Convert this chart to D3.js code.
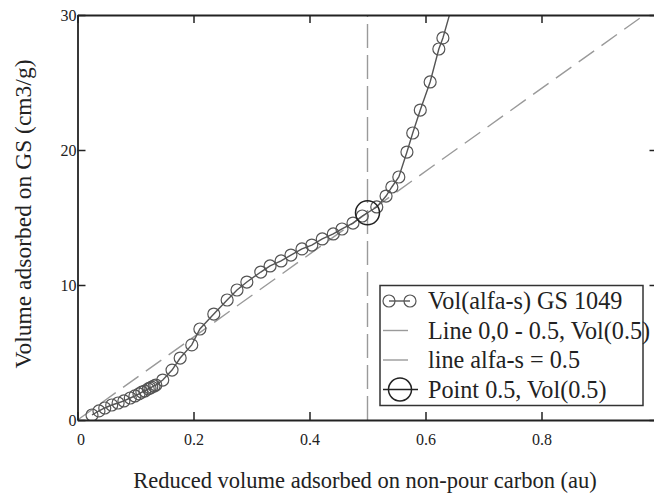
<!DOCTYPE html>
<html>
<head>
<meta charset="utf-8">
<script src="https://cdn.jsdelivr.net/npm/d3@7"></script>
<style>
  body { margin: 0; background: #fff; }
  svg text { font-family: "Liberation Serif", "DejaVu Serif", serif; fill: #222; }
</style>
</head>
<body>
<div id="chart"></div>
<script>
// data
const alfaS = [0.025, 0.037, 0.047, 0.059, 0.070, 0.080, 0.091, 0.099, 0.106, 0.111,
  0.116, 0.122, 0.125, 0.128, 0.132, 0.135, 0.147, 0.163, 0.177, 0.197,
  0.211, 0.235, 0.258, 0.275, 0.292, 0.316, 0.332, 0.351, 0.368, 0.387,
  0.404, 0.422, 0.441, 0.456, 0.475, 0.491, 0.516, 0.532, 0.542, 0.554,
  0.568, 0.578, 0.591, 0.608, 0.623, 0.630, 0.650];
const volGS = [0.37, 0.67, 0.89, 1.11, 1.26, 1.41, 1.63, 1.78, 1.93, 2.07,
  2.15, 2.30, 2.37, 2.44, 2.52, 2.59, 2.96, 3.70, 4.59, 5.56,
  6.74, 7.85, 8.89, 9.63, 10.22, 10.96, 11.41, 11.78, 12.22, 12.67,
  12.96, 13.41, 13.78, 14.15, 14.59, 15.11, 15.78, 16.59, 17.26, 18.0,
  19.85, 21.26, 22.96, 25.04, 27.48, 28.30, 31.3];
const pointX = 0.5, pointY = 15.35;
const lineX = [0, 1];
const lineY = [0, 30.7];
const vLineX = [0.5, 0.5];
const vLineY = [0, 30];
const xTicks = [0, 0.2, 0.4, 0.6, 0.8];
const yTicks = [0, 10, 20, 30];
const legendLabels = ["Vol(alfa-s) GS 1049", "Line 0,0 - 0.5, Vol(0.5)", "line alfa-s = 0.5", "Point 0.5, Vol(0.5)"];

const width = 654, height = 493;
const x = d3.scaleLinear().domain([0, 1]).range([77.5, 657.5]);
const y = d3.scaleLinear().domain([0, 30]).range([420, 15]);

const svg = d3.select("#chart").append("svg")
  .attr("width", width).attr("height", height);

svg.append("clipPath").attr("id", "clip")
  .append("rect")
  .attr("x", x(0)).attr("y", y(30))
  .attr("width", x(1) - x(0)).attr("height", y(0) - y(30));

const plot = svg.append("g").attr("clip-path", "url(#clip)");
const line = d3.line().x(d => x(d[0])).y(d => y(d[1]));

// reference lines
plot.append("path")
  .datum(d3.zip(lineX, lineY))
  .attr("d", line)
  .attr("fill", "none").attr("stroke", "#9a9a9a").attr("stroke-width", 1.4)
  .attr("stroke-dasharray", "19,9");

plot.append("path")
  .datum(d3.zip(vLineX, vLineY))
  .attr("d", line)
  .attr("fill", "none").attr("stroke", "#9a9a9a").attr("stroke-width", 1.4)
  .attr("stroke-dasharray", "24,7");

// curve + markers
const pts = d3.zip(alfaS, volGS);
plot.append("path")
  .datum(pts)
  .attr("d", line)
  .attr("fill", "none").attr("stroke", "#555").attr("stroke-width", 1.4);

plot.selectAll(".pt")
  .data(pts)
  .enter().append("circle")
  .attr("class", "pt")
  .attr("cx", d => x(d[0])).attr("cy", d => y(d[1]))
  .attr("r", 6)
  .attr("fill", "none").attr("stroke", "#555").attr("stroke-width", 1.2);

plot.append("circle")
  .attr("cx", x(pointX)).attr("cy", y(pointY))
  .attr("r", 12)
  .attr("fill", "none").attr("stroke", "#222").attr("stroke-width", 1.5);

// axes (ticks point inward)
const axisG = svg.append("g");
const fmt = d => d === 0 ? "0" : d3.format(".1f")(d);

const axBottom = axisG.append("g").attr("transform", `translate(0,${y(0)})`)
  .call(d3.axisBottom(x).tickValues(xTicks).tickSizeInner(-8).tickSizeOuter(0).tickPadding(14).tickFormat(fmt));
const axTop = axisG.append("g").attr("transform", `translate(0,${y(30)})`)
  .call(d3.axisTop(x).tickValues(xTicks).tickSizeInner(-8).tickSizeOuter(0).tickFormat(""));
const axLeft = axisG.append("g").attr("transform", `translate(${x(0)},0)`)
  .call(d3.axisLeft(y).tickValues(yTicks).tickSizeInner(-8).tickSizeOuter(0).tickPadding(1));
const axRight = axisG.append("g").attr("transform", `translate(${x(1)},0)`)
  .call(d3.axisRight(y).tickValues(yTicks).tickSizeInner(-8).tickSizeOuter(0).tickFormat(""));

[axBottom, axTop, axLeft, axRight].forEach(g => {
  g.select(".domain").attr("stroke", "#222").attr("stroke-width", 1.8);
  g.selectAll(".tick line").attr("stroke", "#222").attr("stroke-width", 1.5);
  g.selectAll(".tick text").attr("font-size", 16).attr("font-family", "Liberation Serif").attr("fill", "#222");
});
axBottom.selectAll(".tick").filter(d => d === 0).select("text").attr("dx", 3);

// axis titles
svg.append("text")
  .attr("x", 365).attr("y", 488)
  .attr("text-anchor", "middle").attr("font-size", 22.5)
  .text("Reduced volume adsorbed on non-pour carbon (au)");

svg.append("text")
  .attr("transform", "translate(31,214) rotate(-90)")
  .attr("text-anchor", "middle").attr("font-size", 23.5)
  .text("Volume adsorbed on GS (cm3/g)");

// legend
const lg = svg.append("g");
lg.append("rect")
  .attr("x", 380).attr("y", 285.5).attr("width", 263).attr("height", 120)
  .attr("fill", "#fff").attr("stroke", "#333").attr("stroke-width", 1.5);

const rowY = i => 301 + i * 29.5;
lg.selectAll(".lt")
  .data(legendLabels)
  .enter().append("text")
  .attr("x", 428).attr("y", (d, i) => rowY(i) + 8)
  .attr("font-size", 24.2)
  .text(d => d);

// row 0: curve symbol
lg.append("line").attr("x1", 389).attr("x2", 410).attr("y1", rowY(0)).attr("y2", rowY(0))
  .attr("stroke", "#555").attr("stroke-width", 1.4);
[389, 410].forEach(cx => lg.append("circle").attr("cx", cx).attr("cy", rowY(0)).attr("r", 6)
  .attr("fill", "none").attr("stroke", "#555").attr("stroke-width", 1.2));
// rows 1-2: gray lines
[1, 2].forEach(i => lg.append("line").attr("x1", 383).attr("x2", 408)
  .attr("y1", rowY(i)).attr("y2", rowY(i))
  .attr("stroke", "#9a9a9a").attr("stroke-width", 1.4));
// row 3: point symbol
lg.append("line").attr("x1", 383).attr("x2", 418).attr("y1", rowY(3)).attr("y2", rowY(3))
  .attr("stroke", "#222").attr("stroke-width", 1.4);
lg.append("circle").attr("cx", 400).attr("cy", rowY(3)).attr("r", 11.5)
  .attr("fill", "none").attr("stroke", "#222").attr("stroke-width", 1.5);
</script>
</body>
</html>
